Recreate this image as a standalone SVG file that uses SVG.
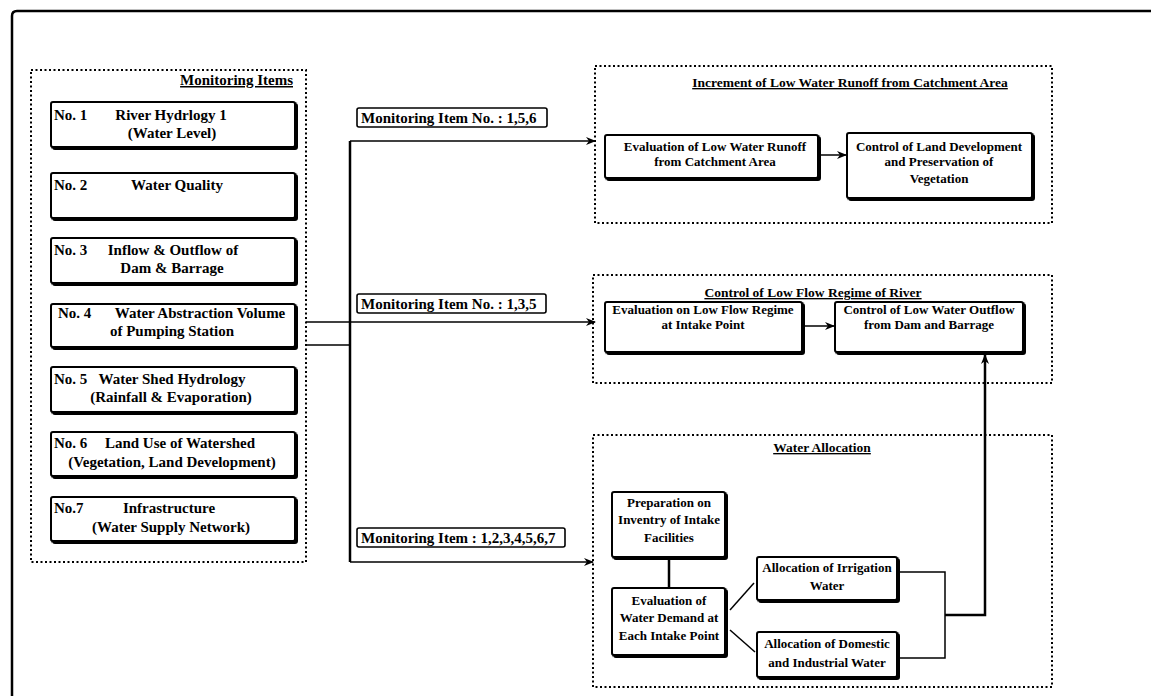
<svg xmlns="http://www.w3.org/2000/svg" width="1151" height="696" viewBox="0 0 1151 696">
<style>
text{font-family:"Liberation Serif","Times New Roman",serif;font-weight:bold;font-size:13px;fill:#000}
.L{font-size:15px}
.T{font-size:13.5px}
.m{text-anchor:middle}
.t{text-decoration:underline}
.box{fill:#fff;stroke:#000;stroke-width:2;filter:url(#sh)}
.lab{fill:#fff;stroke:#000;stroke-width:1.6}
.dot{fill:none;stroke:#000;stroke-width:2;stroke-dasharray:2 2.5}
.ln{fill:none;stroke:#000;stroke-width:1.5}
.thk{fill:none;stroke:#000;stroke-width:2.5}
</style>
<defs>
<marker id="ah" markerWidth="10" markerHeight="8" refX="9" refY="4" orient="auto" markerUnits="userSpaceOnUse">
<path d="M0,0 L10,4 L0,8 L3,4 Z" fill="#000"/>
</marker>
<filter id="sh" x="-5%" y="-5%" width="115%" height="120%">
<feOffset in="SourceAlpha" dx="1.5" dy="1.5" result="o"/>
<feMerge><feMergeNode in="o"/><feMergeNode in="SourceGraphic"/></feMerge>
</filter>
</defs>
<rect width="1151" height="696" fill="#fff"/>
<g id="frame">
<path d="M12,696 V16 Q12,11 17,11 H1151" fill="none" stroke="#000" stroke-width="2.5"/>
</g>
<g id="monitoring-items">
<rect class="dot" x="31" y="70" width="275" height="492"/>
<text class="t L" x="293" y="85" text-anchor="end">Monitoring Items</text>
</g>
<g id="item1">
<rect class="box" x="51" y="102" width="244" height="45" rx="2"/>
<text class="L" x="54" y="120">No. 1</text>
<text class="L m" x="171" y="120">River Hydrlogy 1</text>
<text class="L m" x="172" y="138">(Water Level)</text>
</g>
<g id="item2">
<rect class="box" x="51" y="173" width="244" height="45" rx="2"/>
<text class="L" x="54" y="190">No. 2</text>
<text class="L m" x="177" y="190">Water Quality</text>
</g>
<g id="item3">
<rect class="box" x="51" y="238" width="244" height="45" rx="2"/>
<text class="L" x="54" y="255">No. 3</text>
<text class="L m" x="173" y="255">Inflow &amp; Outflow of</text>
<text class="L m" x="172" y="273">Dam &amp; Barrage</text>
</g>
<g id="item4">
<rect class="box" x="51" y="304" width="244" height="43" rx="2"/>
<text class="L" x="58" y="318">No. 4</text>
<text class="L m" x="200" y="318">Water Abstraction Volume</text>
<text class="L m" x="172" y="336">of Pumping Station</text>
</g>
<g id="item5">
<rect class="box" x="51" y="367" width="244" height="45" rx="2"/>
<text class="L" x="54" y="384">No. 5</text>
<text class="L m" x="172" y="384">Water Shed Hydrology</text>
<text class="L m" x="171" y="402">(Rainfall &amp; Evaporation)</text>
</g>
<g id="item6">
<rect class="box" x="51" y="432" width="244" height="44" rx="2"/>
<text class="L" x="54" y="448">No. 6</text>
<text class="L m" x="180" y="448">Land Use of Watershed</text>
<text class="L m" x="172" y="467">(Vegetation, Land Development)</text>
</g>
<g id="item7">
<rect class="box" x="51" y="497" width="244" height="44" rx="2"/>
<text class="L" x="54" y="513">No.7</text>
<text class="L m" x="169" y="513">Infrastructure</text>
<text class="L m" x="171" y="532">(Water Supply Network)</text>
</g>
<g id="connectors">
<path class="thk" d="M350,141 V562"/>
<path class="ln" d="M350,141 H595" marker-end="url(#ah)"/>
<path class="ln" d="M306,322 H595" marker-end="url(#ah)"/>
<path class="ln" d="M306,345 H350"/>
<path class="ln" d="M350,562 H593" marker-end="url(#ah)"/>
<path class="ln" d="M818,155 H846" marker-end="url(#ah)"/>
<path class="ln" d="M802,326 H834" marker-end="url(#ah)"/>
<path class="thk" d="M669,557 V588"/>
<path class="ln" d="M730,610 L754,583"/>
<path class="ln" d="M730,630 L755,652"/>
<path class="ln" d="M897,572 H945 V658 H897"/>
<path class="thk" d="M945,615 H985 V355" marker-end="url(#ah)"/>
</g>
<g id="label-156">
<rect class="lab" x="357" y="108" width="190" height="19" rx="2"/>
<text class="L" x="361" y="123">Monitoring Item No. : 1,5,6</text>
</g>
<g id="label-135">
<rect class="lab" x="357" y="294" width="189" height="19" rx="2"/>
<text class="L" x="361" y="309">Monitoring Item No. : 1,3,5</text>
</g>
<g id="label-1to7">
<rect class="lab" x="357" y="528" width="208" height="19" rx="2"/>
<text class="L" x="361" y="543">Monitoring Item : 1,2,3,4,5,6,7</text>
</g>
<g id="increment">
<rect class="dot" x="595" y="66" width="457" height="157"/>
<text class="m t T" x="850" y="87">Increment of Low Water Runoff from Catchment Area</text>
</g>
<g id="eval-runoff">
<rect class="box" x="605" y="135" width="213" height="43" rx="2"/>
<text class="m" x="715" y="151">Evaluation of Low Water Runoff</text>
<text class="m" x="715" y="166">from Catchment Area</text>
</g>
<g id="control-land">
<rect class="box" x="847" y="133" width="185" height="65" rx="2"/>
<text class="m" x="939" y="151">Control of Land Development</text>
<text class="m" x="939" y="166">and Preservation  of</text>
<text class="m" x="939" y="183">Vegetation</text>
</g>
<g id="low-flow">
<rect class="dot" x="593" y="275" width="459" height="108"/>
<text class="m t T" x="813" y="297">Control of Low Flow Regime of River</text>
</g>
<g id="eval-flow">
<rect class="box" x="605" y="302" width="197" height="50" rx="2"/>
<text class="m" x="703" y="314">Evaluation on Low Flow Regime</text>
<text class="m" x="703" y="329">at Intake Point</text>
</g>
<g id="control-outflow">
<rect class="box" x="835" y="302" width="188" height="50" rx="2"/>
<text class="m" x="929" y="314">Control of Low Water Outflow</text>
<text class="m" x="929" y="329">from Dam and Barrage</text>
</g>
<g id="water-allocation">
<rect class="dot" x="593" y="435" width="459" height="252"/>
<text class="m t T" x="822" y="452">Water Allocation</text>
</g>
<g id="inventory">
<rect class="box" x="612" y="492" width="113" height="65" rx="2"/>
<text class="m" x="669" y="507">Preparation on</text>
<text class="m" x="669" y="524">Inventry of Intake</text>
<text class="m" x="669" y="542">Facilities</text>
</g>
<g id="demand">
<rect class="box" x="612" y="588" width="113" height="67" rx="2"/>
<text class="m" x="669" y="605">Evaluation of</text>
<text class="m" x="669" y="622">Water Demand at</text>
<text class="m" x="669" y="640">Each Intake Point</text>
</g>
<g id="irrigation">
<rect class="box" x="757" y="557" width="140" height="43" rx="2"/>
<text class="m" x="827" y="572">Allocation of Irrigation</text>
<text class="m" x="827" y="590">Water</text>
</g>
<g id="domestic">
<rect class="box" x="757" y="632" width="140" height="45" rx="2"/>
<text class="m" x="827" y="648">Allocation of Domestic</text>
<text class="m" x="827" y="667">and Industrial Water</text>
</g>
</svg>
